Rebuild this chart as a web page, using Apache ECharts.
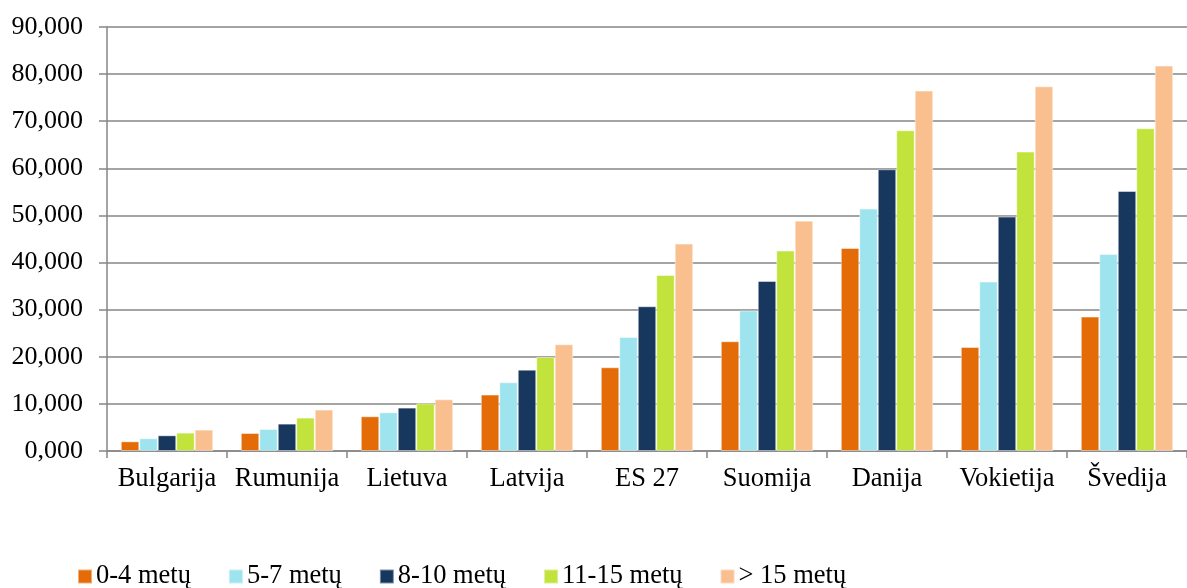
<!DOCTYPE html>
<html>
<head>
<meta charset="utf-8">
<script src="https://cdn.jsdelivr.net/npm/echarts@6/dist/echarts.min.js"></script>
<style>
html,body{margin:0;padding:0;background:#fff;}
#c{width:1187px;height:588px;}
</style>
</head>
<body>
<div id="c"></div>
<script>
const categories = ['Bulgarija','Rumunija','Lietuva','Latvija','ES 27','Suomija','Danija','Vokietija','Švedija'];
const seriesNames = ['0-4 metų','5-7 metų','8-10 metų','11-15 metų','> 15 metų'];
const s0_4   = [2050, 3820, 7370, 11970, 17770, 23290, 43090, 22080, 28530];
const s5_7   = [2700, 4670, 8210, 14580, 24200, 29800, 51450, 35960, 41820];
const s8_10  = [3330, 5810, 9210, 17270, 30720, 36090, 59800, 49750, 55190];
const s11_15 = [3900, 7090, 10120, 19950, 37360, 42540, 68070, 63550, 68500];
const s15p   = [4540, 8790, 10970, 22650, 44020, 48900, 76500, 77410, 81810];
const yTickLabels = ['0,000','10,000','20,000','30,000','40,000','50,000','60,000','70,000','80,000','90,000'];
const colors = ['#E36C09','#9DE4EE','#17375E','#C2E33C','#F9BF8F'];

const allData = [s0_4, s5_7, s8_10, s11_15, s15p];
const font = '"Liberation Serif","Times New Roman",serif';
const chart = echarts.init(document.getElementById('c'), null, {renderer:'canvas'});
chart.setOption({
  animation: false,
  color: colors,
  grid: {left: 107, top: 27, width: 1085, height: 424, containLabel: false},
  legend: {
    left: 77, top: 563, padding: 0,
    itemWidth: 14, itemHeight: 14, itemGap: 37,
    icon: 'rect',
    textStyle: {fontFamily: font, fontSize: 26.5, color: '#000', padding: [0,0,0,-1]},
    data: seriesNames
  },
  xAxis: {
    type: 'category',
    data: categories,
    axisLine: {lineStyle: {color: '#868686', width: 1.5}},
    axisTick: {show: true, length: 7, lineStyle: {color: '#868686', width: 1.5}},
    axisLabel: {fontFamily: font, fontSize: 26.5, color: '#000', margin: 15, interval: 0}
  },
  yAxis: {
    type: 'value',
    min: 0, max: 90000, interval: 10000,
    axisLine: {show: true, lineStyle: {color: '#868686', width: 1.5}},
    axisTick: {show: true, length: 8, lineStyle: {color: '#868686', width: 1.5}},
    splitLine: {lineStyle: {color: '#868686', width: 1.5}},
    axisLabel: {
      fontFamily: font, fontSize: 26, color: '#000', margin: 24,
      formatter: v => yTickLabels[Math.round(v / 10000)]
    }
  },
  series: seriesNames.map((n, i) => ({
    name: n,
    type: 'bar',
    data: allData[i],
    barGap: '0%',
    barCategoryGap: '23%',
    itemStyle: {borderColor: 'rgba(255,255,255,0.45)', borderWidth: 1}
  }))
});
</script>
</body>
</html>
